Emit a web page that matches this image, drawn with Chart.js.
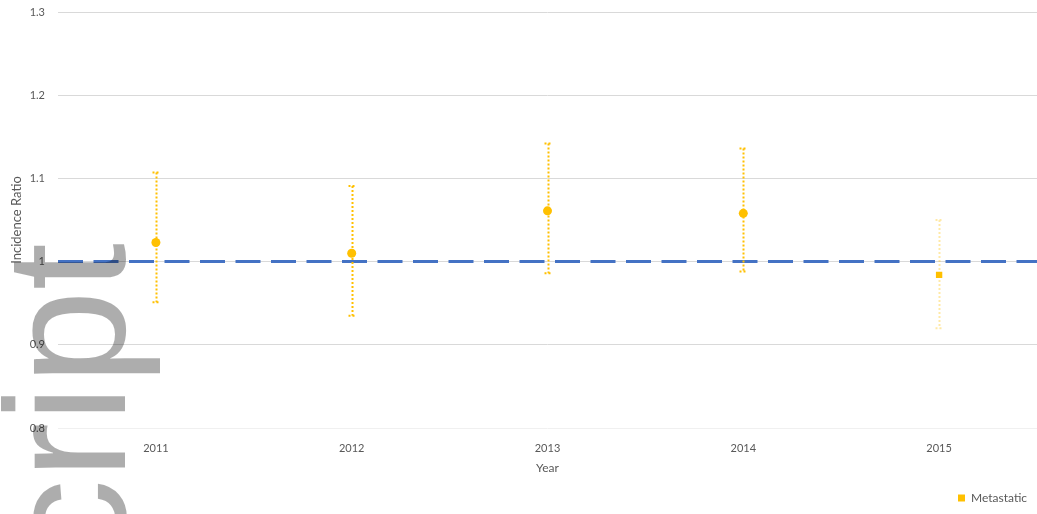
<!DOCTYPE html>
<html>

<head>
  <script src="https://cdn.jsdelivr.net/npm/chart.js@4/dist/chart.umd.min.js"></script>
  <style>
    body { margin: 0; background: #fff; }
    #wrap { position: relative; width: 1037px; height: 514px; }
  </style>
</head>

<body>
  <div id="wrap"><canvas id="chart" width="1037" height="514"></canvas></div>
  <script>
    var years = ['2011', '2012', '2013', '2014', '2015'];
    var ratio = [1.023, 1.010, 1.061, 1.058, 0.984];
    var lower = [0.951, 0.935, 0.986, 0.988, 0.920];
    var upper = [1.107, 1.091, 1.142, 1.136, 1.050];
    var refValue = 1;
    var yTicks = [0.8, 0.9, 1.0, 1.1, 1.2, 1.3];

    var txt = '#595959';
    var gold = '#FFC000';

    // dashed reference line + dotted error bars, under the points
    var errorBars = {
      id: 'errorBars',
      beforeDatasetsDraw: function (chart, args, opts) {
        var ctx = chart.ctx, area = chart.chartArea;
        var x = chart.scales.x, y = chart.scales.y;
        ctx.save();

        var yr = y.getPixelForValue(refValue);
        ctx.strokeStyle = '#4472C4';
        ctx.lineWidth = 3;
        ctx.setLineDash([25, 10.5]);
        ctx.beginPath();
        ctx.moveTo(area.left, yr);
        ctx.lineTo(area.right, yr);
        ctx.stroke();

        ctx.lineWidth = 2;
        ctx.setLineDash([2, 2]);
        years.forEach(function (yrLabel, i) {
          var px = Math.round(x.getPixelForValue(i)) + 0.5;
          var top = y.getPixelForValue(upper[i]);
          var bot = y.getPixelForValue(lower[i]);
          ctx.strokeStyle = opts.colors[i];
          ctx.beginPath();
          ctx.moveTo(px, top);
          ctx.lineTo(px, bot);
          ctx.moveTo(px - 4, top);
          ctx.lineTo(px + 4, top);
          ctx.moveTo(px - 4, bot);
          ctx.lineTo(px + 4, bot);
          ctx.stroke();
        });
        ctx.restore();
      }
    };

    var watermark = {
      id: 'watermark',
      afterDraw: function (chart) {
        var ctx = chart.ctx;
        ctx.save();
        ctx.translate(125, 243);
        ctx.rotate(-Math.PI / 2);
        ctx.font = '170px "Liberation Sans"';
        ctx.fillStyle = 'rgba(0,0,0,0.32)';
        ctx.textAlign = 'right';
        ctx.textBaseline = 'alphabetic';
        ctx.fillText('Manuscript', 0, 0);
        ctx.restore();
      }
    };

    function draw() {
      new Chart('chart', {
        type: 'line',
        data: {
          labels: years,
          datasets: [{
            label: 'Metastatic',
            data: ratio,
            showLine: false,
            backgroundColor: gold,
            borderColor: gold,
            borderWidth: 0,
            pointStyle: ['circle', 'circle', 'circle', 'circle', 'rect'],
            pointRadius: 4.5,
            pointHoverRadius: 4.5,
            pointBorderWidth: 0
          }]
        },
        options: {
          responsive: false,
          animation: false,
          layout: { autoPadding: false, padding: { top: 12, right: 0, left: 0, bottom: 0 } },
          plugins: {
            tooltip: { enabled: false },
            errorBars: { colors: [gold, gold, gold, gold, 'rgba(255,192,0,0.35)'] },
            legend: {
              position: 'bottom',
              align: 'end',
              labels: {
                boxWidth: 7,
                boxHeight: 7,
                padding: 10,
                color: txt,
                font: { family: 'Lato', size: 12 }
              }
            }
          },
          scales: {
            x: {
              offset: true,
              grid: { display: false, drawTicks: false },
              border: { display: false },
              ticks: { color: txt, padding: 14, font: { family: 'Lato', size: 11 } },
              title: {
                display: true, text: 'Year', color: txt,
                padding: { top: 0, bottom: 7 },
                font: { family: 'Lato', size: 12 }
              },
              afterFit: function (s) { s.height = 54; s.paddingLeft = 0; s.paddingRight = 0; }
            },
            y: {
              min: yTicks[0],
              max: yTicks[yTicks.length - 1],
              afterBuildTicks: function (s) { s.ticks = yTicks.map(function (v) { return { value: v }; }); },
              grid: {
                drawTicks: false,
                color: function (c) { return c.tick && c.tick.value === yTicks[0] ? '#f0f0f0' : '#d9d9d9'; }
              },
              border: { display: false },
              ticks: {
                color: txt, padding: 13, font: { family: 'Lato', size: 11 },
                callback: function (v) { return String(Math.round(v * 10) / 10); }
              },
              title: {
                display: true, text: 'Incidence Ratio', color: txt,
                padding: { top: 9, bottom: 0 },
                font: { family: 'Lato', size: 13 }
              },
              afterFit: function (s) { s.width = 58; s.paddingTop = 0; s.paddingBottom = 0; }
            }
          }
        },
        plugins: [errorBars, watermark]
      });
    }

    Promise.all([
      document.fonts.load('170px "Liberation Sans"'),
      document.fonts.load('12px Lato')
    ]).then(draw, draw);
  </script>
</body>

</html>
